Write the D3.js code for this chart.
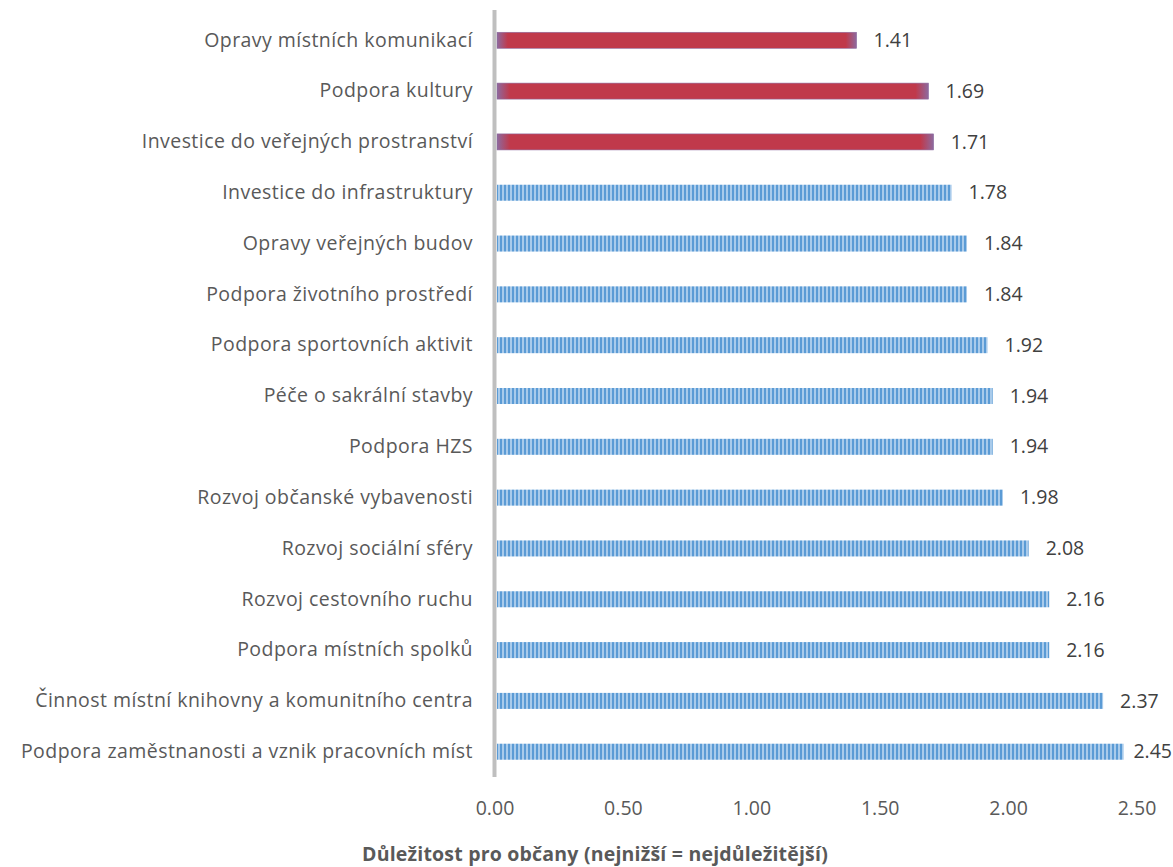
<!DOCTYPE html>
<html>
<head>
<meta charset="utf-8">
<script src="https://cdn.jsdelivr.net/npm/d3@7"></script>
<style>
  body { margin: 0; background: #fff; }
  text { font-family: "Open Sans", "Noto Sans", sans-serif; }
</style>
</head>
<body>
<svg width="1173" height="867"></svg>
<script>
// categories top -> bottom
const categories = [
    "Opravy místních komunikací",
    "Podpora kultury",
    "Investice do veřejných prostranství",
    "Investice do infrastruktury",
    "Opravy veřejných budov",
    "Podpora životního prostředí",
    "Podpora sportovních aktivit",
    "Péče o sakrální stavby",
    "Podpora HZS",
    "Rozvoj občanské vybavenosti",
    "Rozvoj sociální sféry",
    "Rozvoj cestovního ruchu",
    "Podpora místních spolků",
    "Činnost místní knihovny a komunitního centra",
    "Podpora zaměstnanosti a vznik pracovních míst"
];
const values = [1.41, 1.69, 1.71, 1.78, 1.84, 1.84, 1.92, 1.94, 1.94, 1.98, 2.08, 2.16, 2.16, 2.37, 2.45];
// top three are highlighted
const highlighted = [true, true, true, false, false, false, false, false, false, false, false, false, false, false, false];
const xTicks = [0, 0.5, 1, 1.5, 2, 2.5];
const axisTitle = "Důležitost pro občany (nejnižší = nejdůležitější)";

let svg = d3.select("svg"),
    width = +svg.attr("width");

let x = d3.scaleLinear().domain([0, 2.5]).range([494.5, 1136.5]);
let y = d3.scaleBand().domain(categories).range([15, 777]).paddingInner(0.685).paddingOuter(0.34);

let defs = svg.append("defs");

// red bar: gradient fading to purple at the edges
let rg = defs.append("linearGradient").attr("id", "redH");
rg.append("stop").attr("offset", "0%").attr("stop-color", "#8d6a9f");
rg.append("stop").attr("offset", "3%").attr("stop-color", "#c0394b");
rg.append("stop").attr("offset", "97%").attr("stop-color", "#c0394b");
rg.append("stop").attr("offset", "100%").attr("stop-color", "#8d6a9f");

// blue bar: vertical stripes
let pat = defs.append("pattern")
    .attr("id", "stripes")
    .attr("patternUnits", "userSpaceOnUse")
    .attr("width", 4).attr("height", 4);
pat.append("rect").attr("width", 4).attr("height", 4).attr("fill", "#a9cbeb");
pat.append("rect").attr("width", 2).attr("height", 4).attr("fill", "#5b9bd5");

let g = svg.append("g");

g.selectAll(".bar")
    .data(values)
    .enter().append("rect")
    .attr("class", "bar")
    .attr("x", x(0) + 2.5)
    .attr("y", (d, i) => y(categories[i]))
    .attr("width", d => x(d) - x(0) - 2.5)
    .attr("height", y.bandwidth())
    .attr("fill", (d, i) => highlighted[i] ? "url(#redH)" : "url(#stripes)")
    .attr("stroke", (d, i) => highlighted[i] ? "#8d6a9f" : "none")
    .attr("stroke-width", 0.6);

// value labels (pushed back inside the chart if they would run off the edge)
g.selectAll(".val")
    .data(values)
    .enter().append("text")
    .attr("class", "val")
    .attr("x", d => x(d) + 17)
    .attr("y", (d, i) => y(categories[i]) + y.bandwidth() / 2)
    .attr("dy", "0.34em")
    .attr("font-size", 19.5)
    .attr("fill", "#404040")
    .text(d => d.toFixed(2))
    .each(function () {
        let w = this.getComputedTextLength(),
            x0 = +this.getAttribute("x");
        if (x0 + w > width - 1) this.setAttribute("x", width - 1 - w);
    });

// category labels
g.selectAll(".cat")
    .data(categories)
    .enter().append("text")
    .attr("class", "cat")
    .attr("x", 473)
    .attr("y", d => y(d) + y.bandwidth() / 2)
    .attr("dy", "0.32em")
    .attr("text-anchor", "end")
    .attr("font-size", 19.5)
    .attr("letter-spacing", 0.45)
    .attr("fill", "#595959")
    .text(d => d);

// vertical axis line
svg.append("line")
    .attr("x1", x(0)).attr("x2", x(0))
    .attr("y1", 10).attr("y2", 777)
    .attr("stroke", "#bfbfbf")
    .attr("stroke-width", 4);

// x tick labels
let xAxis = svg.append("g")
    .attr("transform", "translate(0,815)")
    .call(d3.axisBottom(x).tickValues(xTicks).tickSize(0).tickPadding(0).tickFormat(d3.format(".2f")));
xAxis.select(".domain").remove();
xAxis.selectAll("text")
    .attr("dy", 0)
    .attr("font-family", "'Open Sans', 'Noto Sans', sans-serif")
    .attr("font-size", 19.5)
    .attr("fill", "#595959");

svg.append("text")
    .attr("x", 595)
    .attr("y", 861)
    .attr("text-anchor", "middle")
    .attr("font-size", 19.5)
    .attr("font-weight", "bold")
    .attr("letter-spacing", 0.2)
    .attr("fill", "#595959")
    .text(axisTitle);
</script>
</body>
</html>
